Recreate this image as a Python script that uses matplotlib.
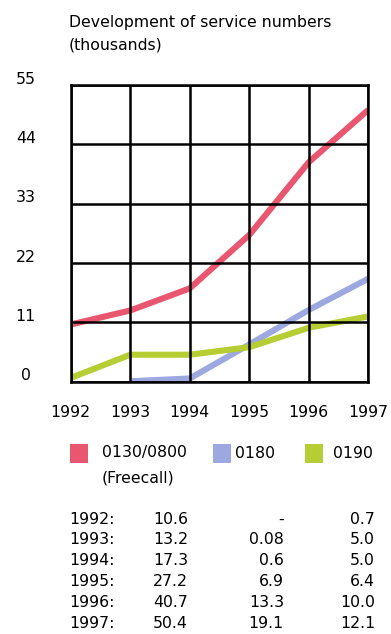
import matplotlib
matplotlib.use("Agg")
import matplotlib.pyplot as plt
from matplotlib.patches import Rectangle

# service numbers in thousands, 1992-1997
years = [1992, 1993, 1994, 1995, 1996, 1997]
freecall = [10.6, 13.2, 17.3, 27.2, 40.7, 50.4]
n0180 = [None, 0.08, 0.6, 6.9, 13.3, 19.1]
n0190 = [0.7, 5.0, 5.0, 6.4, 10.0, 12.1]

series_names = ["0130/0800\n(Freecall)", "0180", "0190"]
series_colors = ["#e9566f", "#9ea8e0", "#b6cd33"]
y_ticks = [0, 11, 22, 33, 44, 55]

W, H = 391, 634
FONT = "DejaVu Sans"
FS = 11.3

plt.rcParams["font.family"] = FONT


def fx(px):
    return px / W


def fy(py):
    return 1 - py / H


def fmt(v):
    if v is None:
        return "-"
    return f"{v:g}" if v < 1 else f"{v:.1f}"


fig = plt.figure(figsize=(W / 100, H / 100), dpi=100)
fig.patch.set_facecolor("white")

left, right, top, bottom = 70.7, 368.3, 85, 381.7
ax = fig.add_axes([fx(left), fy(bottom), (right - left) / W, (bottom - top) / H])

for vals, col in zip([freecall, n0180, n0190], series_colors):
    xs = [x for x, v in zip(years, vals) if v is not None]
    ys = [v for v in vals if v is not None]
    ax.plot(xs, ys, color=col, lw=4.4, solid_capstyle="butt", zorder=2)

ax.set_xlim(years[0], years[-1])
ax.set_ylim(y_ticks[0], y_ticks[-1])
ax.set_xticks(years)
ax.set_yticks(y_ticks)
ax.tick_params(length=0, labelbottom=False, labelleft=False)
ax.set_axisbelow(False)
ax.grid(True, color="black", lw=1.8)
for sp in ax.spines.values():
    sp.set_linewidth(1.8)
    sp.set_color("black")

# axis labels drawn as offset annotations
for v in y_ticks:
    ax.annotate(str(v), xy=(0, v), xycoords=("axes fraction", "data"),
                xytext=(-45, 6), textcoords="offset pixels",
                ha="center", va="center", fontsize=FS)
for yr in years:
    ax.annotate(str(yr), xy=(yr, 0), xycoords=("data", "axes fraction"),
                xytext=(0, -31), textcoords="offset pixels",
                ha="center", va="center", fontsize=FS)

fig.text(fx(69), fy(22), "Development of service numbers", fontsize=FS,
         ha="left", va="center")
fig.text(fx(69), fy(45), "(thousands)", fontsize=FS, ha="left", va="center")

# legend
legend_pos = [(70, 102), (213, 235), (305, 333)]
for (sx, tx), name, col in zip(legend_pos, series_names, series_colors):
    fig.add_artist(Rectangle((fx(sx), fy(463)), 18 / W, 19 / H,
                             transform=fig.transFigure, color=col, lw=0))
    first, *rest = name.split("\n")
    fig.text(fx(tx), fy(453), first, fontsize=FS, ha="left", va="center")
    for i, line in enumerate(rest):
        fig.text(fx(tx), fy(478 + 25 * i), line, fontsize=FS,
                 ha="left", va="center")

# data table
for i, yr in enumerate(years):
    y = fy(519 + 20.9 * i)
    fig.text(fx(69), y, f"{yr}:", fontsize=FS, ha="left", va="center")
    fig.text(fx(153), y, fmt(freecall[i]), fontsize=FS, ha="left", va="center")
    fig.text(fx(284), y, fmt(n0180[i]), fontsize=FS, ha="right", va="center")
    fig.text(fx(375), y, fmt(n0190[i]), fontsize=FS, ha="right", va="center")

fig.savefig("out.png", dpi=100)
